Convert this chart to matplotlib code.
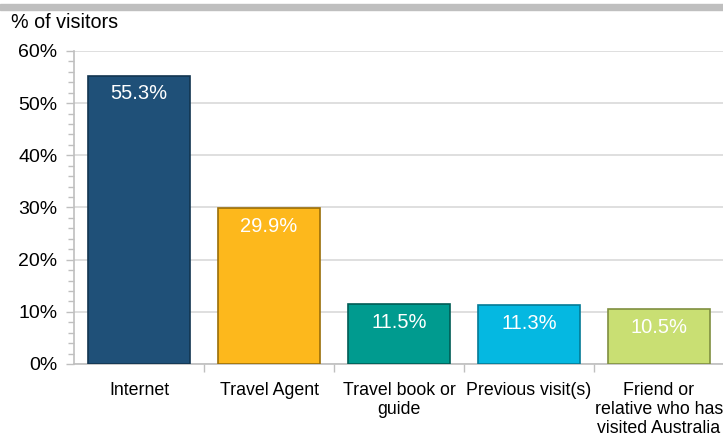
import matplotlib
matplotlib.use("Agg")
import matplotlib.pyplot as plt
from matplotlib.ticker import MultipleLocator, FixedLocator, NullFormatter
from matplotlib.patches import Rectangle

plt.rcParams['font.family'] = ['Liberation Sans', 'DejaVu Sans']

categories = ["Internet", "Travel Agent", "Travel book or\nguide", "Previous visit(s)",
              "Friend or\nrelative who has\nvisited Australia"]
values = [55.3, 29.9, 11.5, 11.3, 10.5]
labels = ["55.3%", "29.9%", "11.5%", "11.3%", "10.5%"]
colors = ["#1F5078", "#FDB81C", "#009B8F", "#05B8E1", "#C9DF73"]
edges = ["#123550", "#9a6e08", "#005c55", "#037a96", "#7f8f40"]
yticks = [0, 10, 20, 30, 40, 50, 60]

fig = plt.figure(figsize=(7.23, 4.38), dpi=100)
fig.patches.append(Rectangle((0, 1 - 10/438), 1, 6/438, transform=fig.transFigure,
                             color="#BFBFBF", zorder=0))
ax = fig.add_axes([74/723, 1 - 364/438, 650/723, 313/438])

x = list(range(len(categories)))
bars = ax.bar(x, values, width=0.78, color=colors, edgecolor=edges, linewidth=1.2, zorder=3)
for b, lab in zip(bars, labels):
    ax.annotate(lab, (b.get_x() + b.get_width()/2, b.get_height()), xytext=(0, -13),
                textcoords="offset points", ha="center", va="center",
                color="white", fontsize=14.5, zorder=4)

ax.set_xlim(-0.5, len(categories) - 0.5)
ax.set_ylim(0, 60)
ax.set_yticks(yticks)
ax.set_yticklabels([f"{t}%" for t in yticks], fontsize=14)
ax.yaxis.set_minor_locator(MultipleLocator(2))
ax.yaxis.grid(True, which="major", color="#D9D9D9", linewidth=1.2, zorder=0)
ax.set_axisbelow(True)

ax.set_xticks(x)
ax.set_xticklabels(categories, fontsize=12.8, linespacing=1.15)
ax.xaxis.set_minor_locator(FixedLocator([i + 0.5 for i in x]))
ax.xaxis.set_minor_formatter(NullFormatter())
ax.tick_params(axis="x", which="major", length=0, pad=13)
ax.tick_params(axis="x", which="minor", length=6, color="#BFBFBF", width=1)
ax.tick_params(axis="y", which="major", length=6, color="#BFBFBF", width=1, pad=6)
ax.tick_params(axis="y", which="minor", length=4, color="#BFBFBF", width=1)

for s in ["top", "right"]:
    ax.spines[s].set_visible(False)
for s in ["left", "bottom"]:
    ax.spines[s].set_color("#BFBFBF")
    ax.spines[s].set_linewidth(1.2)

fig.text(11/723, 1 - 23/438, "% of visitors", fontsize=14.2, va="center", ha="left")

fig.savefig("out.png", dpi=100)
